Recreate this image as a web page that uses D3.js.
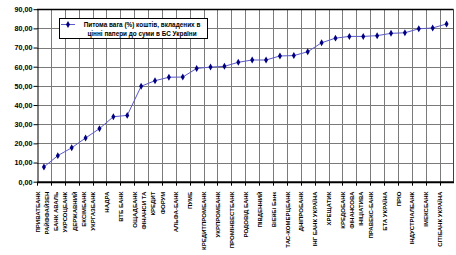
<!DOCTYPE html>
<html>
<head>
<meta charset="utf-8">
<script src="https://cdn.jsdelivr.net/npm/d3@7"></script>
<style>
  body { margin: 0; background: #fff; }
  svg { display: block; font-family: "Liberation Sans", Arial, sans-serif; }
</style>
</head>
<body>
<svg id="chart" width="456" height="255"></svg>
<script>
// ====================== DATA ======================
let bankNames = [
  ["ПРИВАТБАНК"],
  ["РАЙФФАЙЗЕН", "БАНК АВАЛЬ"],
  ["УКРСОЦБАНК"],
  ["ДЕРЖАВНИЙ", "ЕКСІМБАНК"],
  ["УКРГАЗБАНК"],
  ["НАДРА"],
  ["ВТБ БАНК"],
  ["ОЩАДБАНК"],
  ["ФІНАНСИ ТА", "КРЕДИТ"],
  ["ФОРУМ"],
  ["АЛЬФА-БАНК"],
  ["ПУМБ"],
  ["КРЕДИТПРОМБАНК"],
  ["УКРПРОМБАНК"],
  ["ПРОМІНВЕСТБАНК"],
  ["РОДОВІД БАНК"],
  ["ПІВДЕННИЙ"],
  ["ВіЕйБі Банк"],
  ["ТАС-КОМЕРЦБАНК"],
  ["ДНІПРОБАНК"],
  ["ІНГ БАНК УКРАЇНА"],
  ["ХРЕЩАТИК"],
  ["КРЕДОБАНК"],
  ["ФІНАНСОВА", "ІНІЦІАТИВА"],
  ["ПРАВЕКС-БАНК"],
  ["БТА УКРАЇНА"],
  ["ПРІО"],
  ["ІНДУСТРІАЛБАНК"],
  ["ІМЕКСБАНК"],
  ["СІТІБАНК УКРАЇНА"]
];

let shareValues = [
  7.7, 13.6, 17.7, 22.8, 27.7, 33.9, 34.6, 49.8, 52.7, 54.5,
  54.6, 59.1, 59.8, 60.2, 62.3, 63.5, 63.5, 65.6, 65.8, 67.8,
  72.5, 74.9, 75.8, 75.8, 76.2, 77.4, 77.7, 79.8, 80.2, 82.3
];

let yTicks = [0, 10, 20, 30, 40, 50, 60, 70, 80, 90];

let legendLines = ["Питома вага (%) коштів, вкладених в", "цінні папери до суми в БС України"];

// ====================== LAYOUT ======================
let plotLeft = 37;
let plotRight = 453.5;
let plotTop = 9.2;
let plotBottom = 181.7;

let svg = d3.select("#chart");

let xScale = d3.scaleBand()
  .domain(d3.range(bankNames.length))
  .range([plotLeft, plotRight])
  .paddingInner(0).paddingOuter(0);

let yScale = d3.scaleLinear()
  .domain([0, 90])
  .range([plotBottom, plotTop]);

let step = xScale.step();
let bandBounds = d3.range(1, bankNames.length).map(i => xScale(i));

// ====================== GRID ======================
svg.append("g")
  .selectAll("line")
  .data(yTicks.filter(d => d > 0 && d < 90))
  .enter()
  .append("line")
  .attr("x1", plotLeft).attr("x2", plotRight)
  .attr("y1", d => Math.round(yScale(d)) + 0.5)
  .attr("y2", d => Math.round(yScale(d)) + 0.5)
  .attr("stroke", "#7a7a7a")
  .attr("stroke-width", 1);

svg.append("g")
  .selectAll("line")
  .data(bandBounds)
  .enter()
  .append("line")
  .attr("x1", d => Math.round(d) + 0.5).attr("x2", d => Math.round(d) + 0.5)
  .attr("y1", plotTop).attr("y2", plotBottom)
  .attr("stroke", "#7a7a7a")
  .attr("stroke-width", 1);

// plot area border (top / right)
svg.append("line")
  .attr("x1", plotLeft).attr("x2", plotRight)
  .attr("y1", Math.round(plotTop) + 0.5).attr("y2", Math.round(plotTop) + 0.5)
  .attr("stroke", "#000").attr("stroke-width", 1.5);
svg.append("line")
  .attr("x1", Math.round(plotRight) - 0.5).attr("x2", Math.round(plotRight) - 0.5)
  .attr("y1", plotTop).attr("y2", plotBottom)
  .attr("stroke", "#404040").attr("stroke-width", 1);

// ====================== AXES ======================
let yAxis = svg.append("g")
  .attr("transform", `translate(${plotLeft + 0.5},0)`)
  .call(d3.axisLeft(yScale)
    .tickValues(yTicks)
    .tickFormat(d => d3.format(".2f")(d).replace(".", ","))
    .tickSize(4)
    .tickSizeOuter(0));
yAxis.select(".domain").attr("stroke", "#000");
yAxis.selectAll(".tick line").attr("stroke", "#000");
yAxis.selectAll(".tick text")
  .attr("x", -5)
  .style("font-size", "7.2px")
  .style("font-weight", "bold")
  .attr("fill", "#000");

let xAxis = svg.append("g")
  .attr("transform", `translate(0,${plotBottom})`)
  .call(d3.axisBottom(xScale).tickSize(0).tickFormat("").tickSizeOuter(0));
xAxis.select(".domain").attr("stroke", "#000").attr("stroke-width", 2);

// tick marks between categories
svg.append("g")
  .selectAll("line")
  .data([plotLeft].concat(bandBounds))
  .enter()
  .append("line")
  .attr("x1", d => Math.round(d) + 0.5).attr("x2", d => Math.round(d) + 0.5)
  .attr("y1", plotBottom).attr("y2", plotBottom + 4)
  .attr("stroke", "#000");

// category labels, rotated
let labelGroups = svg.append("g")
  .selectAll("text")
  .data(bankNames)
  .enter()
  .append("text")
  .attr("transform", (d, i) => {
    let cx = xScale(i) + step / 2;
    let shift = d.length > 1 ? -8.8 : -4.3;
    return `translate(${cx + shift},${plotBottom + 10}) rotate(-90)`;
  })
  .attr("text-anchor", "end")
  .style("font-size", "6px")
  .style("font-weight", "bold")
  .attr("fill", "#000");

labelGroups.selectAll("tspan")
  .data(d => d)
  .enter()
  .append("tspan")
  .attr("x", 0)
  .attr("y", (d, j) => j * 9)
  .text(d => d);

// ====================== SERIES ======================
let line = d3.line()
  .x((d, i) => xScale(i) + step / 2)
  .y(d => yScale(d));

svg.append("path")
  .datum(shareValues)
  .attr("d", line)
  .attr("fill", "none")
  .attr("stroke", "#5a5ac8")
  .attr("stroke-width", 1);

let diamond = d3.symbol().type(d3.symbolDiamond).size(14);

svg.append("g")
  .selectAll("path")
  .data(shareValues)
  .enter()
  .append("path")
  .attr("d", diamond)
  .attr("transform", (d, i) => `translate(${xScale(i) + step / 2},${yScale(d)})`)
  .attr("fill", "#000080");

// ====================== LEGEND ======================
let legend = svg.append("g");
legend.append("rect")
  .attr("x", 59.5).attr("y", 18.5)
  .attr("width", 148).attr("height", 20)
  .attr("fill", "#fff")
  .attr("stroke", "#000")
  .attr("stroke-width", 1);
legend.append("line")
  .attr("x1", 61).attr("x2", 75)
  .attr("y1", 24.5).attr("y2", 24.5)
  .attr("stroke", "#5a5ac8");
legend.append("path")
  .attr("d", diamond)
  .attr("transform", "translate(68,24.5)")
  .attr("fill", "#000080");
legend.selectAll("text.leg")
  .data(legendLines)
  .enter()
  .append("text")
  .attr("class", "leg")
  .attr("x", 142)
  .attr("y", (d, i) => 26.8 + i * 9)
  .attr("text-anchor", "middle")
  .style("font-size", "6.4px")
  .style("font-weight", "bold")
  .attr("fill", "#000")
  .text(d => d);
</script>
</body>
</html>
